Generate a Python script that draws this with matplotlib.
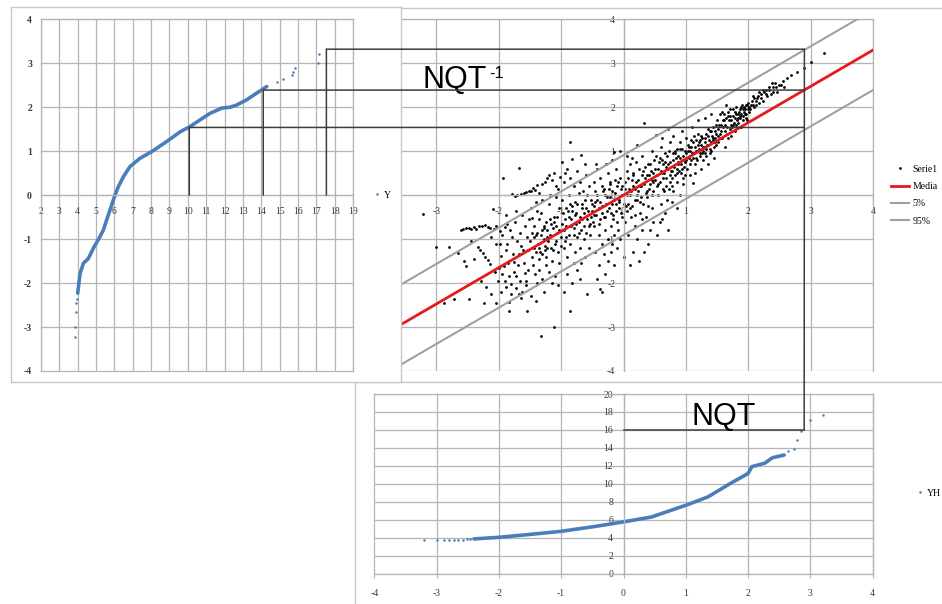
import matplotlib
matplotlib.use('Agg')
import matplotlib.pyplot as plt
from matplotlib.patches import ConnectionPatch

plt.rcParams['font.family'] = ['Liberation Serif', 'DejaVu Serif']
plt.rcParams['axes.unicode_minus'] = False

# --- panel 1: Y (x) vs normal quantile (y) ---
y_curve_x = [4.00, 4.13, 4.31, 4.58, 4.85, 5.22, 5.40, 5.58, 5.76, 5.94, 6.03, 6.21, 6.49,
             6.85, 7.40, 8.03, 8.85, 9.58, 10.12, 10.66, 11.21, 11.85, 12.30, 12.66, 13.21,
             13.75, 14.30]
y_curve_q = [-2.23, -1.78, -1.55, -1.44, -1.21, -0.94, -0.79, -0.56, -0.34, -0.11, 0.00, 0.19,
             0.42, 0.65, 0.84, 0.99, 1.22, 1.44, 1.56, 1.71, 1.86, 1.98, 2.00, 2.05, 2.17,
             2.32, 2.47]
y_tail_x = [3.85, 3.85, 3.90, 3.92, 3.95, 14.84, 15.20, 15.66, 15.75, 15.84, 17.11, 17.17]
y_tail_q = [-3.22, -3.01, -2.65, -2.46, -2.37, 2.58, 2.64, 2.73, 2.81, 2.89, 3.00, 3.20]

# --- panel 2: Serie1 scatter (read by strips) + median and 5% / 95% bands ---
serie1_pts = [
    (-3.22, -0.42), (-3.01, -1.18), (-2.79, -1.17), (-2.66, -1.31), (-2.87, -2.45), (-2.72, -2.36),
    (-2.61, -0.80), (-2.57, -0.77), (-2.53, -0.75), (-2.56, -1.50), (-2.52, -1.62),
    (-2.48, -2.36), (-2.24, -2.45), (-2.04, -2.45), (-2.48, -0.74), (-2.44, -0.78), (-2.40, -0.73),
    (-2.36, -0.76), (-2.32, -0.71), (-2.27, -0.70), (-2.22, -0.68), (-2.18, -0.72), (-2.14, -0.74),
    (-2.08, -0.76), (-2.04, -0.70), (-2.34, -1.18), (-2.30, -1.25), (-2.26, -1.32), (-2.22, -1.40),
    (-2.18, -1.48), (-2.14, -1.56), (-2.10, -0.32), (-2.05, -1.10), (-2.02, -1.95), (-2.44, -1.05),
    (-2.40, -1.45), (-2.12, -0.95), (-2.28, -1.95), (-2.20, -2.10), (-2.12, -2.25), (-2.06, -1.75),
    (-1.93, 0.40), (-1.68, 0.62), (-1.79, 0.02), (-1.74, -0.03), (-1.70, 0.00), (-1.64, 0.03),
    (-1.60, 0.05), (-1.56, 0.07), (-1.52, 0.10), (-1.98, -0.82), (-1.95, -0.90), (-1.90, -0.72),
    (-1.86, -0.66), (-1.82, -0.80), (-1.78, -0.95), (-1.74, -0.60), (-1.70, -1.05), (-1.66, -0.85),
    (-1.62, -0.45), (-1.58, -0.70), (-1.54, -0.95), (-1.52, -0.55), (-1.96, -1.38), (-1.92, -1.62),
    (-1.88, -1.25), (-1.84, -1.84), (-1.80, -2.02), (-1.76, -1.52), (-1.72, -2.12), (-1.68, -1.35),
    (-1.66, -1.95), (-1.62, -2.20), (-1.60, -1.55), (-1.56, -2.05), (-1.53, -1.25), (-1.84, -2.42),
    (-1.83, -2.63), (-1.68, -2.25), (-1.54, -2.63), (-1.90, -1.95), (-1.86, -1.10), (-1.76, -1.75),
    (-1.64, -1.15), (-1.58, -1.78), (-1.98, -1.10), (-1.72, -0.35), (-1.88, -0.45),
    (-1.99, -1.65), (-1.94, -1.80), (-1.89, -2.10), (-1.85, -1.55), (-1.81, -2.25), (-1.77, -1.35),
    (-1.73, -1.85), (-1.69, -1.60), (-1.65, -2.35), (-1.61, -1.25), (-1.57, -1.95), (-1.53, -1.70),
    (-1.96, -2.20),
    (-1.48, 0.10), (-1.45, 0.16), (-1.42, 0.12), (-1.38, 0.22), (-1.35, 0.05), (-1.31, 0.26),
    (-1.26, 0.30), (-1.22, 0.38), (-1.19, 0.45), (-1.15, 0.34), (-1.12, 0.50), (-1.09, 0.20),
    (-1.05, 0.15), (-1.02, 0.42), (-1.48, -0.30), (-1.46, -0.52), (-1.43, -0.70), (-1.40, -0.90),
    (-1.37, -1.10), (-1.34, -1.30), (-1.32, -0.40), (-1.30, -0.80), (-1.27, -1.00), (-1.25, -0.60),
    (-1.22, -1.20), (-1.20, -0.20), (-1.18, -0.90), (-1.15, -1.50), (-1.12, -0.50), (-1.10, -1.10),
    (-1.08, -0.70), (-1.05, -1.30), (-1.03, -0.30), (-1.01, -0.95), (-1.45, -1.60), (-1.42, -1.80),
    (-1.38, -2.00), (-1.35, -1.70), (-1.30, -1.90), (-1.28, -2.20), (-1.25, -1.60), (-1.20, -1.75),
    (-1.15, -2.00), (-1.10, -1.85), (-1.05, -2.05), (-1.33, -3.20), (-1.11, -2.99), (-1.48, -2.30),
    (-1.40, -2.40), (-1.30, -0.10), (-1.40, -0.15), (-1.18, 0.00), (-1.08, -0.05), (-1.35, -0.55),
    (-1.25, -1.40), (-1.44, -1.20), (-1.38, -0.35), (-1.28, -0.75), (-1.16, -0.65), (-1.06, -0.85),
    (-1.47, -0.85), (-1.23, -0.95), (-1.13, -1.25), (-1.03, -1.55), (-1.36, -1.45), (-1.26, -1.15),
    (-1.50, -1.05), (-1.47, -1.40), (-1.44, -0.95), (-1.41, -1.30), (-1.39, -0.85), (-1.36, -1.20),
    (-1.33, -0.90), (-1.31, -1.35), (-1.28, -0.70), (-1.26, -1.25), (-1.23, -0.80), (-1.21, -1.05),
    (-1.18, -0.55), (-1.16, -1.20), (-1.13, -0.75), (-1.11, -0.60), (-1.08, -1.05), (-1.06, -0.50),
    (-1.03, -0.80), (-1.01, -1.15),
    (-0.86, 1.20), (-0.83, 0.82), (-0.68, 0.91), (-0.93, 0.50), (-0.90, 0.60), (-0.95, 0.30),
    (-0.85, 0.40), (-0.80, 0.20), (-0.75, 0.55), (-0.70, 0.30), (-0.65, 0.10), (-0.60, 0.45),
    (-0.55, 0.20), (-0.98, -0.10), (-0.92, -0.30), (-0.88, -0.50), (-0.84, -0.70), (-0.80, -0.90),
    (-0.76, -0.40), (-0.72, -0.60), (-0.68, -0.80), (-0.64, -1.00), (-0.60, -0.30), (-0.56, -0.70),
    (-0.52, -0.50), (-0.96, -1.20), (-0.90, -1.40), (-0.85, -1.10), (-0.78, -1.30), (-0.70, -1.20),
    (-0.62, -1.40), (-0.55, -1.20), (-0.96, -2.21), (-0.86, -2.63), (-0.90, -1.80), (-0.82, -2.00),
    (-0.75, -1.70), (-0.70, -1.90), (-0.58, -2.25), (-0.95, -0.80), (-0.88, 0.00), (-0.78, -0.15),
    (-0.66, -0.20), (-0.58, 0.00), (-0.52, -0.10), (-0.98, 0.75), (-0.62, 0.70), (-0.72, 0.05),
    (-0.94, -0.55), (-0.82, -0.35), (-0.74, -0.95), (-0.66, -0.55), (-0.54, -0.90), (-0.92, -0.95),
    (-0.86, -0.20), (-0.64, -0.40), (-0.60, -0.85), (-0.76, -0.65), (-0.50, -0.35), (-0.68, -1.55),
    (-0.80, -1.55),
    (-0.99, -0.65), (-0.97, -0.40), (-0.94, -1.05), (-0.92, -0.70), (-0.89, -0.35), (-0.87, -0.90),
    (-0.84, -0.55), (-0.82, -0.25), (-0.79, -0.75), (-0.77, -0.45), (-0.74, -0.20), (-0.72, -0.85),
    (-0.69, -0.50), (-0.67, -0.30), (-0.64, -0.70), (-0.62, -0.10), (-0.59, -0.55), (-0.57, -0.35),
    (-0.54, -0.65), (-0.51, -0.20),
    (-0.44, 0.70), (-0.43, 0.59), (-0.15, 0.99), (-0.05, 1.00), (-0.48, 0.30), (-0.45, 0.10),
    (-0.42, -0.10), (-0.40, -0.30), (-0.38, 0.40), (-0.35, 0.20), (-0.32, -0.50), (-0.30, 0.00),
    (-0.28, -0.20), (-0.25, 0.50), (-0.22, 0.30), (-0.20, -0.40), (-0.18, 0.10), (-0.15, -0.10),
    (-0.12, 0.60), (-0.10, 0.20), (-0.08, -0.30), (-0.05, 0.40), (-0.03, 0.00), (-0.47, -0.70),
    (-0.40, -0.90), (-0.35, -1.10), (-0.30, -0.80), (-0.25, -1.00), (-0.20, -0.70), (-0.15, -0.90),
    (-0.10, -0.60), (-0.45, -1.30), (-0.40, -1.60), (-0.37, -2.13), (-0.34, -2.21), (-0.30, -1.80),
    (-0.25, -1.50), (-0.20, -1.30), (-0.15, -1.60), (-0.10, -1.20), (-0.05, -1.00), (-0.42, -1.90),
    (-0.22, -0.05), (-0.35, -0.25), (-0.12, -0.20), (-0.02, -0.50), (-0.48, -0.45), (-0.28, 0.70),
    (-0.18, 0.80), (-0.46, -0.15), (-0.38, -0.55), (-0.33, 0.10), (-0.27, -0.35), (-0.24, 0.15),
    (-0.17, -0.55), (-0.13, 0.35), (-0.07, -0.10), (-0.04, 0.15), (-0.09, -0.80), (-0.32, -1.35),
    (-0.18, -1.10),
    (-0.49, -0.60), (-0.47, -0.25), (-0.44, -0.45), (-0.42, 0.00), (-0.39, -0.65), (-0.37, -0.15),
    (-0.34, -0.40), (-0.32, 0.15), (-0.29, -0.50), (-0.27, -0.05), (-0.24, -0.30), (-0.22, 0.25),
    (-0.19, -0.20), (-0.17, -0.45), (-0.14, 0.05), (-0.12, -0.35), (-0.09, 0.30), (-0.07, -0.15),
    (-0.04, -0.40), (-0.02, 0.20),
    (0.21, 1.14), (0.33, 1.64), (0.05, 0.90), (0.10, 0.70), (0.15, 0.50), (0.20, 0.30),
    (0.25, 0.60), (0.30, 0.90), (0.35, 0.40), (0.40, 0.70), (0.45, 1.00), (0.48, 0.50),
    (0.02, 0.30), (0.05, 0.00), (0.08, -0.20), (0.12, 0.10), (0.18, -0.10), (0.22, 0.00),
    (0.28, 0.20), (0.32, -0.20), (0.38, 0.10), (0.42, 0.25), (0.46, 0.00), (0.03, -0.60),
    (0.08, -0.90), (0.12, -0.50), (0.18, -0.70), (0.22, -1.00), (0.26, -0.40), (0.30, -0.80),
    (0.36, -0.50), (0.40, -1.10), (0.45, -0.30), (0.15, -1.30), (0.25, -1.50), (0.10, -1.60),
    (0.33, -1.30), (0.42, -0.80), (0.00, -1.40), (0.48, -0.60), (0.30, 0.45), (0.14, 0.35),
    (0.06, 0.55), (0.11, -0.30), (0.16, 0.20), (0.20, 0.75), (0.24, 0.10), (0.27, -0.15),
    (0.34, 0.65), (0.37, -0.05), (0.41, 0.45), (0.44, 0.55), (0.47, 0.30), (0.04, -0.25),
    (0.09, 0.15), (0.19, -0.45), (0.29, -0.55), (0.39, -0.25), (0.49, 0.80), (0.13, 0.85),
    (0.01, -0.20), (0.03, 0.15), (0.06, -0.35), (0.08, 0.40), (0.11, 0.00), (0.13, -0.25),
    (0.16, 0.45), (0.18, 0.15), (0.21, -0.10), (0.23, 0.35), (0.26, 0.20), (0.28, -0.05),
    (0.31, 0.55), (0.33, 0.25), (0.36, 0.05), (0.38, 0.45), (0.41, 0.15), (0.43, 0.70),
    (0.46, 0.35), (0.48, 0.10),
    (0.52, 1.37), (0.71, 1.50), (0.61, -0.55), (0.77, -0.15), (0.52, 0.90), (0.55, 0.60),
    (0.58, 0.30), (0.60, 1.10), (0.62, 0.80), (0.65, 0.50), (0.68, 0.20), (0.70, 0.90),
    (0.72, 0.60), (0.75, 1.20), (0.78, 0.40), (0.80, 0.80), (0.82, 1.00), (0.85, 0.60),
    (0.88, 0.90), (0.90, 1.20), (0.92, 0.50), (0.95, 0.80), (0.98, 1.00), (0.55, 0.00),
    (0.60, -0.20), (0.65, 0.10), (0.70, -0.10), (0.75, 0.30), (0.80, 0.10), (0.85, 0.30),
    (0.90, 0.00), (0.95, 0.40), (0.58, -0.60), (0.66, -0.40), (0.72, -0.80), (0.85, -0.30),
    (0.53, -0.90), (0.62, 1.30), (0.80, 1.35), (0.93, 1.45), (0.68, 0.65), (0.87, 0.75),
    (0.97, 0.65), (0.75, 0.75), (0.60, 0.55), (0.51, 0.35), (0.54, 0.20), (0.57, 0.75),
    (0.63, 0.40), (0.67, 0.95), (0.73, 0.15), (0.77, 0.55), (0.79, 0.95), (0.83, 0.45),
    (0.86, 1.05), (0.89, 0.55), (0.91, 0.85), (0.94, 1.05), (0.96, 0.25), (0.99, 0.75),
    (0.64, 0.70), (0.74, 0.45), (0.84, 0.85), (0.92, 0.70),
    (0.51, 0.60), (0.53, 0.45), (0.56, 0.25), (0.58, 0.85), (0.61, 0.50), (0.63, 0.15),
    (0.66, 0.75), (0.68, 0.40), (0.71, 0.70), (0.73, 1.00), (0.76, 0.55), (0.78, 0.20),
    (0.81, 0.65), (0.83, 0.95), (0.86, 0.50), (0.88, 0.70), (0.91, 1.05), (0.93, 0.60),
    (0.96, 0.90), (0.98, 0.45),
    (1.11, 0.27), (1.00, 1.30), (1.05, 1.10), (1.08, 0.80), (1.10, 0.95), (1.12, 1.20),
    (1.15, 0.70), (1.18, 1.00), (1.20, 1.40), (1.22, 0.90), (1.25, 1.15), (1.28, 0.80),
    (1.30, 1.30), (1.32, 1.05), (1.35, 1.50), (1.38, 0.95), (1.40, 1.20), (1.42, 1.35),
    (1.45, 1.10), (1.48, 1.60), (1.02, 0.60), (1.06, 0.45), (1.15, 0.50), (1.25, 0.60),
    (1.35, 0.70), (1.45, 0.85), (1.20, 1.70), (1.30, 1.75), (1.40, 1.85), (1.10, 1.55),
    (1.05, 0.85), (1.17, 1.25), (1.27, 1.00), (1.37, 1.25), (1.47, 1.30), (1.13, 0.95),
    (1.23, 1.25), (1.33, 0.90), (1.43, 1.55), (1.01, 0.95), (1.03, 1.15), (1.07, 1.00),
    (1.09, 1.25), (1.14, 1.10), (1.16, 0.85), (1.19, 1.15), (1.21, 1.05), (1.24, 1.35),
    (1.26, 0.95), (1.29, 1.10), (1.31, 1.20), (1.34, 1.15), (1.36, 1.35), (1.39, 1.05),
    (1.41, 1.45), (1.44, 1.25), (1.46, 1.45), (1.49, 1.15),
    (1.01, 0.80), (1.03, 1.00), (1.06, 0.70), (1.08, 1.10), (1.11, 0.85), (1.13, 1.35),
    (1.16, 1.00), (1.18, 0.80), (1.21, 1.20), (1.23, 0.95), (1.26, 1.30), (1.28, 1.10),
    (1.31, 0.95), (1.33, 1.40), (1.36, 1.15), (1.38, 1.45), (1.41, 1.00), (1.43, 1.30),
    (1.46, 1.20), (1.48, 1.40),
    (1.62, 1.10), (1.50, 1.70), (1.55, 1.40), (1.58, 1.90), (1.60, 1.55), (1.65, 1.75),
    (1.68, 1.30), (1.70, 1.95), (1.72, 1.60), (1.75, 1.80), (1.78, 1.45), (1.80, 2.00),
    (1.82, 1.70), (1.85, 1.90), (1.88, 1.55), (1.90, 2.05), (1.92, 1.80), (1.95, 1.95),
    (1.98, 1.70), (1.52, 1.20), (1.57, 1.60), (1.63, 1.45), (1.67, 1.90), (1.73, 1.35),
    (1.77, 1.65), (1.83, 1.85), (1.87, 1.75), (1.93, 2.00), (1.97, 1.85), (1.54, 1.85),
    (1.64, 2.05), (1.51, 1.50), (1.56, 1.30), (1.59, 1.70), (1.61, 1.85), (1.66, 1.55),
    (1.69, 1.70), (1.71, 1.80), (1.74, 1.55), (1.76, 1.95), (1.79, 1.75), (1.81, 1.85),
    (1.84, 1.65), (1.86, 1.95), (1.89, 1.85), (1.91, 1.95), (1.94, 1.85), (1.96, 2.05),
    (1.99, 1.95),
    (1.51, 1.35), (1.53, 1.60), (1.56, 1.45), (1.58, 1.30), (1.61, 1.70), (1.63, 1.60),
    (1.66, 1.40), (1.68, 1.80), (1.71, 1.50), (1.73, 1.70), (1.76, 1.60), (1.78, 1.90),
    (1.81, 1.60), (1.83, 1.75), (1.86, 1.80), (1.88, 2.00), (1.91, 1.70), (1.93, 1.90),
    (1.96, 1.75), (1.98, 2.05),
    (2.00, 2.10), (2.03, 1.95), (2.06, 2.15), (2.10, 2.20), (2.13, 2.05), (2.16, 2.25),
    (2.20, 2.30), (2.23, 2.15), (2.26, 2.35), (2.30, 2.25), (2.33, 2.40), (2.36, 2.30),
    (2.40, 2.45), (2.43, 2.55), (2.46, 2.35), (2.50, 2.50), (2.02, 2.00), (2.08, 2.05),
    (2.12, 2.15), (2.18, 2.10), (2.28, 2.40), (2.38, 2.55),
    (2.01, 1.90), (2.04, 2.05), (2.07, 2.25), (2.09, 2.00), (2.14, 2.20), (2.17, 2.35),
    (2.21, 2.20), (2.24, 2.40), (2.29, 2.30), (2.34, 2.45), (2.39, 2.35), (2.44, 2.45),
    (2.52, 2.50), (2.55, 2.60), (2.58, 2.45), (2.62, 2.67), (2.68, 2.73), (2.78, 2.80),
    (2.89, 2.90), (3.00, 3.03), (3.21, 3.24),
]
band_x = [-4, 4]
median_y = [-3.30, 3.30]
p5_y = [-4.21, 2.39]
p95_y = [-2.39, 4.21]

# --- panel 3: normal quantile (x) vs YH (y) ---
yh_curve_q = [-2.40, -1.97, -1.36, -1.00, -0.45, 0.00, 0.45, 1.00, 1.36, 1.67, 2.00, 2.06,
              2.27, 2.39, 2.58]
yh_curve_v = [3.85, 4.05, 4.45, 4.70, 5.25, 5.75, 6.30, 7.60, 8.55, 9.85, 11.15, 11.90,
              12.30, 12.90, 13.20]
yh_tail_q = [-3.21, -3.00, -2.88, -2.80, -2.72, -2.65, -2.58, -2.52, -2.46,
             2.64, 2.73, 2.79, 2.85, 3.00, 3.21]
yh_tail_v = [3.70, 3.72, 3.74, 3.75, 3.76, 3.77, 3.78, 3.80, 3.82,
             13.60, 13.90, 14.90, 15.90, 17.10, 17.65]

# connector lines (NQT^-1 and NQT)
inv_y_vals = [10.08, 14.11, 17.55]
inv_q_vals = [1.54, 2.39, 3.32]
nqt_q = 2.9
nqt_yh = 16

W, H = 942, 604
BLUE = '#4a7ebb'
GRID = '#b4b4b4'
FRAME = '#c8c8c8'
CONN = '#3c3c3c'


def px_box(x0, y0, x1, y1):
    return [x0 / W, 1 - y1 / H, (x1 - x0) / W, (y1 - y0) / H]


fig = plt.figure(figsize=(9.42, 6.04), dpi=100)


def add_frame(x0, y0, x1, y1):
    a = fig.add_axes(px_box(x0, y0, x1, y1))
    a.set_xticks([])
    a.set_yticks([])
    for s in a.spines.values():
        s.set_color(FRAME)
        s.set_linewidth(1)
    return a


def style_axes(ax):
    ax.set_axisbelow(True)
    ax.grid(True, color=GRID, lw=0.9)
    for gl in ax.get_xgridlines() + ax.get_ygridlines():
        gl.set_clip_on(False)
    for s in ax.spines.values():
        s.set_color(GRID)
        s.set_linewidth(0.9)


# panel 2 (behind)
add_frame(400, 8, 960, 382)
ax2 = fig.add_axes(px_box(374, 19.3, 873, 371))
ax2.set_xlim(-4, 4)
ax2.set_ylim(-4, 4)
ax2.set_xticks(range(-3, 5))
ax2.set_yticks(range(-4, 5))
style_axes(ax2)
ax2.spines['left'].set_position(('data', 0))
ax2.spines['bottom'].set_position(('data', 0))
ax2.tick_params(length=0, labelsize=7, labelcolor='#3a3a3a')
ax2.tick_params(axis='x', pad=8.5)
ax2.tick_params(axis='y', pad=6)
sx = [p[0] for p in serie1_pts]
sy = [p[1] for p in serie1_pts]
ax2.plot(sx, sy, 'o', ms=2.0, color='black', mec='none', label='Serie1', zorder=2)
ax2.plot(band_x, median_y, color='#e41a1c', lw=2, label='Media', zorder=3)
ax2.plot(band_x, p5_y, color='#a0a0a0', lw=1.5, label='5%', zorder=3)
ax2.plot(band_x, p95_y, color='#a0a0a0', lw=1.5, label='95%', zorder=3)
ax2.legend(loc='center left', bbox_to_anchor=(1.036, 0.5), frameon=False,
           prop={'size': 7}, handlelength=1.9, handletextpad=0.3, labelspacing=0.85,
           borderpad=0, borderaxespad=0)

# panel 3 (bottom)
add_frame(355, 382, 960, 620)
ax3 = fig.add_axes(px_box(374.3, 394, 872.7, 573.5))
ax3.set_xlim(-4, 4)
ax3.set_ylim(0, 20)
ax3.set_xticks(range(-4, 5))
ax3.set_yticks(range(0, 21, 2))
style_axes(ax3)
ax3.spines['left'].set_position(('data', 0))
ax3.tick_params(labelsize=7, labelcolor='#3a3a3a', color=GRID)
ax3.tick_params(axis='y', direction='inout', length=5, pad=5)
ax3.tick_params(axis='x', direction='out', length=3, pad=8)
ax3.plot(yh_curve_q, yh_curve_v, color=BLUE, lw=2.6, solid_capstyle='round', zorder=2)
ax3.plot(yh_tail_q, yh_tail_v, 'o', ms=1.8, color=BLUE, mec='none', label='YH', zorder=2)
ax3.plot([0, nqt_q], [nqt_yh, nqt_yh], color=CONN, lw=1.1, zorder=4)
ax3.legend(loc='center left', bbox_to_anchor=(1.088, 0.448), frameon=False,
           prop={'size': 7}, handlelength=0.8, handletextpad=0.3,
           borderpad=0, borderaxespad=0)

# panel 1 (front)
add_frame(11, 7, 401, 382)
ax1 = fig.add_axes(px_box(41, 19.3, 353, 371))
ax1.set_xlim(2, 19)
ax1.set_ylim(-4, 4)
style_axes(ax1)
ax1.set_xticks(range(2, 20), labels=[str(v) for v in range(2, 20)], fontweight='bold')
ax1.set_yticks(range(-4, 5), labels=[str(v) for v in range(-4, 5)], fontweight='bold')
ax1.spines['bottom'].set_position(('data', 0))
ax1.tick_params(length=0, labelsize=7, labelcolor='#3a3a3a')
ax1.tick_params(axis='x', pad=8.5)
ax1.tick_params(axis='y', pad=6.5)
ax1.plot(y_curve_x, y_curve_q, color=BLUE, lw=2.6, solid_capstyle='round', zorder=2)
ax1.plot(y_tail_x, y_tail_q, 'o', ms=1.8, color=BLUE, mec='none', label='Y', zorder=2)
ax1.legend(loc='center left', bbox_to_anchor=(1.064, 0.5), frameon=False,
           prop={'size': 7}, handlelength=0.8, handletextpad=0.3,
           borderpad=0, borderaxespad=0)

# connector lines drawn over all panels
for yv, qv in zip(inv_y_vals, inv_q_vals):
    for a, b, ca, cb in [((yv, 0), (yv, qv), ax1, ax1), ((yv, qv), (nqt_q, qv), ax1, ax2)]:
        fig.add_artist(ConnectionPatch(xyA=a, xyB=b, coordsA='data', coordsB='data',
                                       axesA=ca, axesB=cb, color=CONN, lw=1.1, zorder=5))
fig.add_artist(ConnectionPatch(xyA=(nqt_q, max(inv_q_vals)), xyB=(nqt_q, nqt_yh),
                               coordsA='data', coordsB='data', axesA=ax2, axesB=ax3,
                               color=CONN, lw=1.1, zorder=5))

fig.text(0.448, 0.854, 'NQT', family='Liberation Sans', fontsize=22, ha='left', va='baseline')
fig.text(0.519, 0.871, '-1', family='Liberation Sans', fontsize=12, ha='left', va='baseline')
fig.text(0.7346, 0.2964, 'NQT', family='Liberation Sans', fontsize=22, ha='left', va='baseline')

fig.savefig('out.png', dpi=100, facecolor='white')
